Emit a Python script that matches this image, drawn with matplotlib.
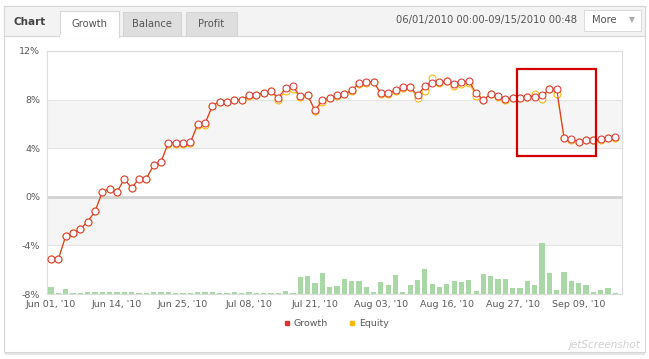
"""
Growth chart (06/01/2010 - 09/15/2010): growth vs equity with volume bars.
"""
import matplotlib
matplotlib.use('Agg')
import matplotlib.pyplot as plt
from matplotlib.patches import Rectangle
from matplotlib.lines import Line2D

# growth / equity in %, one point per trading day
growth = [-5.13, -5.13, -3.23, -2.98, -2.65, -2.04, -1.20, 0.40, 0.68, 0.39,
          1.47, 0.72, 1.50, 1.50, 2.61, 2.87, 4.46, 4.45, 4.45, 4.47,
          5.96, 6.04, 7.48, 7.84, 7.84, 7.98, 7.98, 8.34, 8.39, 8.56,
          8.72, 8.17, 8.92, 9.08, 8.26, 8.39, 7.12, 7.93, 8.16, 8.34,
          8.45, 8.75, 9.34, 9.45, 9.48, 8.53, 8.55, 8.75, 9.04, 9.04,
          8.34, 9.13, 9.38, 9.42, 9.52, 9.30, 9.45, 9.55, 8.53, 7.98,
          8.48, 8.28, 8.03, 8.15, 8.15, 8.20, 8.25, 8.34, 8.86, 8.86,
          4.83, 4.72, 4.53, 4.69, 4.69, 4.72, 4.88, 4.91]

equity = [-5.13, -5.13, -3.23, -2.98, -2.65, -2.04, -1.20, 0.40, 0.68, 0.39,
          1.47, 0.72, 1.50, 1.50, 2.58, 2.85, 4.38, 4.38, 4.38, 4.40,
          5.90, 5.93, 7.45, 7.82, 7.82, 7.96, 7.96, 8.32, 8.37, 8.54,
          8.70, 7.98, 8.72, 8.88, 8.20, 8.35, 7.05, 7.80, 8.12, 8.30,
          8.42, 8.72, 9.30, 9.40, 9.45, 8.45, 8.50, 8.72, 8.95, 9.00,
          8.10, 8.72, 9.77, 9.35, 9.50, 9.15, 9.25, 9.40, 8.30, 7.95,
          8.45, 8.25, 7.95, 8.12, 8.12, 8.18, 8.50, 8.08, 8.90, 8.50,
          4.80, 4.70, 4.50, 4.66, 4.66, 4.70, 4.85, 4.88]

# traded volume (arbitrary units)
volume = [6.7, 1.0, 4.7, 1.0, 1.0, 1.5, 2.3, 2.3, 1.5, 1.5,
          2.0, 1.5, 1.0, 1.0, 2.0, 2.0, 2.3, 1.0, 0.5, 0.5,
          2.3, 1.5, 2.3, 1.0, 0.5, 1.5, 0.5, 2.0, 1.0, 1.0,
          1.0, 1.3, 2.7, 1.0, 16.5, 17.8, 11.2, 21.3, 7.4, 8.2,
          15.3, 13.0, 12.7, 6.7, 1.7, 11.7, 9.0, 19.0, 2.3, 8.7,
          13.7, 25.0, 10.3, 6.7, 10.3, 13.0, 11.7, 14.0, 2.7, 19.7,
          17.7, 15.0, 15.0, 6.3, 6.3, 13.0, 9.0, 50.3, 20.7, 4.3,
          22.0, 13.0, 11.0, 9.0, 1.7, 4.3, 6.0, 1.0]

tick_labels = ["Jun 01, '10", "Jun 14, '10", "Jun 25, '10", "Jul 08, '10",
               "Jul 21, '10", "Aug 03, '10", "Aug 16, '10", "Aug 27, '10",
               "Sep 09, '10"]
yticks = [-8, -4, 0, 4, 8, 12]

VOL_PER_PCT = 12.1   # volume units drawn per 1% of the growth scale
RED = '#dc3434'
YEL = '#f5b800'
GRAY_TXT = '#5a5a5a'

W, H = 649, 359
fig = plt.figure(figsize=(W / 100, H / 100), dpi=100)
fig.patch.set_facecolor('white')


def fbox(x0, y0, x1, y1, z=-10, **kw):
    """rectangle in figure pixels (top-left origin)"""
    return Rectangle((x0 / W, 1 - y1 / H), (x1 - x0) / W, (y1 - y0) / H,
                     transform=fig.transFigure, zorder=z, **kw)


# panel frame + header
fig.patches.append(fbox(5, 352, 645, 355, facecolor='#e6e6e6', edgecolor='none'))
fig.patches.append(fbox(4, 6, 645, 352, facecolor='white', edgecolor='#d6d6d6', lw=0.8))
fig.patches.append(fbox(4, 6, 645, 36, facecolor='#f3f3f3', edgecolor='#d6d6d6', lw=0.8))
fig.patches.append(fbox(60, 11, 119, 37, facecolor='white', edgecolor='#d6d6d6', lw=0.8))
fig.patches.append(fbox(60, 35, 119, 38, facecolor='white', edgecolor='none'))
fig.patches.append(fbox(123, 12, 181, 36, facecolor='#dedede', edgecolor='#d0d0d0', lw=0.6))
fig.patches.append(fbox(186, 12, 237, 36, facecolor='#dedede', edgecolor='#d0d0d0', lw=0.6))
fig.patches.append(fbox(584, 10, 641, 31, facecolor='white', edgecolor='#d6d6d6', lw=0.6))

hdr_y = 1 - 22 / H
fig.text(14 / W, hdr_y, 'Chart', fontsize=7.5, fontweight='bold', color='#444444', va='center')
fig.text(89 / W, hdr_y - 2 / H, 'Growth', fontsize=7.2, color='#555555', va='center', ha='center')
fig.text(152 / W, hdr_y - 2 / H, 'Balance', fontsize=7.2, color='#555555', va='center', ha='center')
fig.text(211 / W, hdr_y - 2 / H, 'Profit', fontsize=7.2, color='#555555', va='center', ha='center')
fig.text(577 / W, 1 - 20 / H, '06/01/2010 00:00-09/15/2010 00:48', fontsize=7.2,
         color='#555555', va='center', ha='right')
fig.text(592 / W, 1 - 20 / H, 'More', fontsize=7.2, color='#555555', va='center')
fig.text(632 / W, 1 - 20 / H, '\u25bc', fontsize=5.5, color='#aaaaaa', va='center', ha='center')

# plot area
ax = fig.add_axes([47 / W, 1 - 294 / H, (622 - 47) / W, (294 - 51) / H])
x = list(range(len(growth)))

for lo, hi in [(4, 8), (-4, 0)]:
    ax.axhspan(lo, hi, color='#f5f5f5', zorder=0, lw=0)
for yv in yticks:
    ax.axhline(yv, color='#e4e4e4', lw=0.8, zorder=0.5)
ax.axhline(0, color='#d2d2d2', lw=2, zorder=0.6)

ax.bar(x, [v / VOL_PER_PCT for v in volume], bottom=-8, width=0.72,
       color='#a9d8a6', lw=0, zorder=1)

ax.plot(x, equity, color=YEL, lw=0.8, marker='o', ms=5, mfc='white',
        mec=YEL, mew=0.75, zorder=2)
ax.plot(x, growth, color=RED, lw=0.8, marker='o', ms=5, mfc='white',
        mec=RED, mew=0.75, zorder=3)

ax.set_xlim(-0.55, 77.9)
ax.set_ylim(-8, 12)
ax.set_yticks(yticks)
ax.set_yticklabels(['%d%%' % v for v in yticks])
ax.set_xticks(range(0, 9 * len(tick_labels), 9))
ax.set_xticklabels(tick_labels)
ax.tick_params(length=0, labelsize=6.8, labelcolor=GRAY_TXT, pad=4)
ax.tick_params(axis='y', pad=5)
for s in ax.spines.values():
    s.set_color('#dcdcdc')
    s.set_linewidth(0.8)

# highlight box
fig.patches.append(fbox(517, 69, 596, 156, z=10, facecolor='none', edgecolor='#d40000', lw=1.6))

# legend
handles = [Line2D([], [], ls='none', marker='s', ms=3, color=RED, label='Growth'),
           Line2D([], [], ls='none', marker='s', ms=3, color=YEL, label='Equity')]
fig.legend(handles=handles, loc='center', bbox_to_anchor=(336 / W, 1 - 324 / H),
           ncol=2, frameon=False, fontsize=6.8, labelcolor=GRAY_TXT,
           handlelength=0.8, handletextpad=0.3, columnspacing=2.2)

fig.text(640 / W, 1 - 345 / H, 'jetScreenshot', fontsize=7.5, style='italic',
         color='#d0d0d0', ha='right', va='center')

fig.savefig('out.png', dpi=100)
